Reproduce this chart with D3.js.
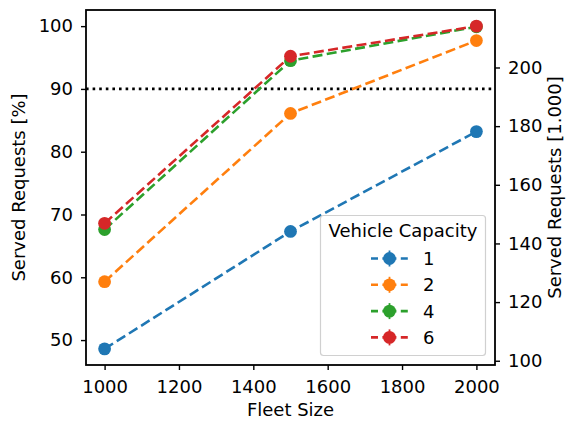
<!DOCTYPE html>
<html>
<head>
<meta charset="utf-8">
<script src="https://cdn.jsdelivr.net/npm/d3@7"></script>
<style>
  html, body { margin: 0; padding: 0; background: #fff; }
  svg { display: block; font-family: "DejaVu Sans", sans-serif; }
</style>
</head>
<body>
<svg id="chart" width="574" height="421"></svg>
<script>
// Fleet sizes on the x axis
const fleetSizes = [1000, 1500, 2000];
// Vehicle capacities (one line each)
const capacities = ["1", "2", "4", "6"];
const colors = ["#1f77b4", "#ff7f0e", "#2ca02c", "#d62728"];
// Served requests [%] per capacity
const served1 = [48.6, 67.3, 83.2];
const served2 = [59.3, 86.1, 97.7];
const served4 = [67.6, 94.5, 99.9];
const served6 = [68.6, 95.2, 100.0];
// Total number of requests in thousands (secondary axis scaling)
const totalRequestsK = 214.1;
const targetLevel = 90;
const xTicks = [1000, 1200, 1400, 1600, 1800, 2000];
const yTicks = [50, 60, 70, 80, 90, 100];
const y2Ticks = [100, 120, 140, 160, 180, 200];

const series = [served1, served2, served4, served6].map((vals, i) => ({
  label: capacities[i], color: colors[i],
  points: vals.map((v, j) => ({ x: fleetSizes[j], y: v }))
}));

const svg = d3.select("#chart");
const m = { left: 86, right: 495, top: 10, bottom: 365 };

const xExt = d3.extent(fleetSizes);
const xPad = (xExt[1] - xExt[0]) * 0.05;
const x = d3.scaleLinear().domain([xExt[0] - xPad, xExt[1] + xPad]).range([m.left, m.right]);

const allY = [].concat(served1, served2, served4, served6);
const yExt = d3.extent(allY);
const yPad = (yExt[1] - yExt[0]) * 0.05;
const y = d3.scaleLinear().domain([yExt[0] - yPad, yExt[1] + yPad]).range([m.bottom, m.top]);
const y2 = d3.scaleLinear().domain(y.domain().map(d => d * totalRequestsK / 100)).range([m.bottom, m.top]);

const fs = 18;

function styleAxis(g) {
  g.select(".domain").remove();
  g.selectAll(".tick line").attr("stroke", "#000").attr("stroke-width", 1.4);
  g.selectAll(".tick text").attr("fill", "#000").attr("font-size", fs).attr("font-family", "DejaVu Sans, sans-serif");
}

svg.append("g").attr("transform", `translate(0,${m.bottom})`)
  .call(d3.axisBottom(x).tickValues(xTicks).tickSize(5).tickPadding(10.5).tickFormat(d3.format("d")))
  .call(styleAxis);
svg.append("g").attr("transform", `translate(${m.left},0)`)
  .call(d3.axisLeft(y).tickValues(yTicks).tickSize(5).tickPadding(8).tickFormat(d3.format("d")))
  .call(styleAxis);
svg.append("g").attr("transform", `translate(${m.right},0)`)
  .call(d3.axisRight(y2).tickValues(y2Ticks).tickSize(5).tickPadding(8).tickFormat(d3.format("d")))
  .call(styleAxis);

// 90 % target line
svg.append("line")
  .attr("x1", m.left).attr("x2", m.right)
  .attr("y1", y(targetLevel)).attr("y2", y(targetLevel))
  .attr("stroke", "#000").attr("stroke-width", 2.6)
  .attr("stroke-dasharray", "2.6,4");

const line = d3.line().x(d => x(d.x)).y(d => y(d.y));
series.forEach(s => {
  const g = svg.append("g");
  g.append("path").attr("d", line(s.points))
    .attr("fill", "none").attr("stroke", s.color)
    .attr("stroke-width", 2.6).attr("stroke-dasharray", "10,4.4");
  g.selectAll("circle").data(s.points).join("circle")
    .attr("cx", d => x(d.x)).attr("cy", d => y(d.y)).attr("r", 6.4)
    .attr("fill", s.color);
});

// Frame
svg.append("rect").attr("x", m.left).attr("y", m.top)
  .attr("width", m.right - m.left).attr("height", m.bottom - m.top)
  .attr("fill", "none").attr("stroke", "#000").attr("stroke-width", 1.8);

// Axis titles
svg.append("text").attr("x", (m.left + m.right) / 2).attr("y", 416)
  .attr("text-anchor", "middle").attr("font-size", fs).text("Fleet Size");
svg.append("text").attr("transform", `translate(25,${(m.top + m.bottom) / 2}) rotate(-90)`)
  .attr("text-anchor", "middle").attr("font-size", fs).text("Served Requests [%]");
svg.append("text").attr("transform", `translate(561,${(m.top + m.bottom) / 2}) rotate(-90)`)
  .attr("text-anchor", "middle").attr("font-size", fs).text("Served Requests [1.000]");

// Legend
const lg = svg.append("g");
lg.append("rect").attr("x", 320.5).attr("y", 215.5).attr("width", 165).attr("height", 140)
  .attr("rx", 3).attr("fill", "#fff").attr("fill-opacity", 0.8)
  .attr("stroke", "#d0d0d0").attr("stroke-width", 1.2);
lg.append("text").attr("x", 403).attr("y", 237).attr("text-anchor", "middle")
  .attr("font-size", fs).text("Vehicle Capacity");
series.forEach((s, i) => {
  const cy = 258.5 + i * 26.3;
  const row = lg.append("g");
  row.append("line").attr("x1", 371).attr("x2", 408).attr("y1", cy).attr("y2", cy)
    .attr("stroke", s.color).attr("stroke-width", 2.6).attr("stroke-dasharray", "7,4.4,14,4.4,7");
  row.append("line").attr("x1", 389.5).attr("x2", 389.5).attr("y1", cy - 8).attr("y2", cy + 8)
    .attr("stroke", s.color).attr("stroke-width", 1.8);
  row.append("circle").attr("cx", 389.5).attr("cy", cy).attr("r", 6.4).attr("fill", s.color);
  row.append("text").attr("x", 423).attr("y", cy + 6.5).attr("font-size", fs).text(s.label);
});
</script>
</body>
</html>
